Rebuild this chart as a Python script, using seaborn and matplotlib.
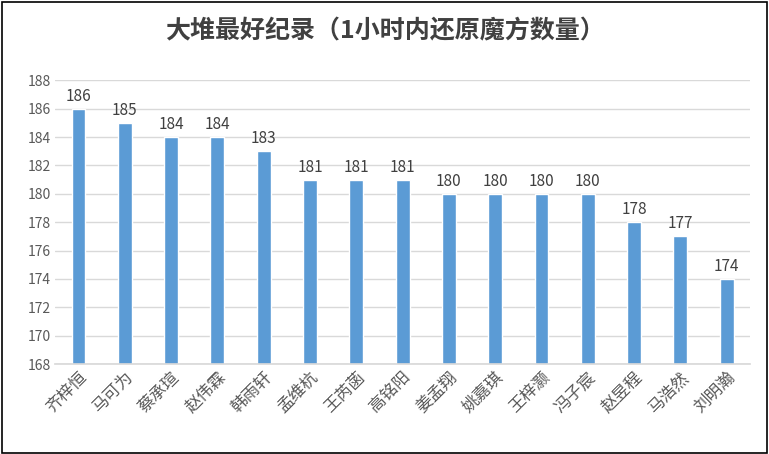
import seaborn as sns
import matplotlib.pyplot as plt
import pandas as pd

names = ["齐梓恒", "马可为", "蔡承瑄", "赵伟霖", "韩雨轩", "孟维杭", "王芮菡", "高铭阳",
         "姜孟翔", "姚嘉琪", "王梓灏", "冯子宸", "赵昱程", "马浩然", "刘明瀚"]
scores = [186, 185, 184, 184, 183, 181, 181, 181, 180, 180, 180, 180, 178, 177, 174]
yticks = list(range(168, 189, 2))

sns.set_theme(style="white")
plt.rcParams['font.family'] = ['Noto Sans CJK SC', 'DejaVu Sans']

df = pd.DataFrame({"name": names, "score": scores})
fig = plt.figure(figsize=(7.69, 4.54), dpi=100)
ax = fig.add_axes([0.072, 0.198, 0.903, 0.625])
sns.barplot(data=df, x="name", y="score", color="#5B9BD5", saturation=1, width=0.3, ax=ax)

ax.set_ylim(168, 188)
ax.set_yticks(yticks)
ax.yaxis.grid(True, color="#D9D9D9", linewidth=1)
ax.set_axisbelow(True)
for s in ["left", "top", "right"]:
    ax.spines[s].set_visible(False)
ax.spines["bottom"].set_color("#D9D9D9")
ax.set_xlabel("")
ax.set_ylabel("")
ax.tick_params(axis="y", labelsize=10, colors="#595959", length=0)
ax.tick_params(axis="x", labelsize=12, colors="#595959", length=0)
plt.setp(ax.get_xticklabels(), rotation=45, ha="right", rotation_mode="anchor")
for c in ax.containers:
    ax.bar_label(c, fontsize=11, color="#404040", padding=3)

fig.text(0.5, 0.93, "大堆最好纪录（1小时内还原魔方数量）", ha="center", va="center",
         fontsize=18, fontweight="semibold", color="#404040")
fig.patches.append(plt.Rectangle((0.002, 0.003), 0.995, 0.993, transform=fig.transFigure,
                                 fill=False, edgecolor="#000000", linewidth=1.2))
fig.savefig("out.png", dpi=100)
